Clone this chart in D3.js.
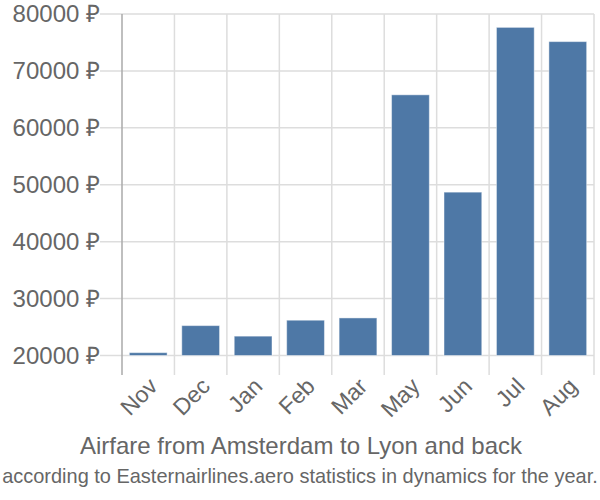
<!DOCTYPE html>
<html><head><meta charset="utf-8">
<script src="https://cdn.jsdelivr.net/npm/d3@7"></script>
<style>body{margin:0;background:#fff}</style>
</head><body>
<svg id="c" width="600" height="500"></svg>
<script>
const months = ["Nov","Dec","Jan","Feb","Mar","May","Jun","Jul","Aug"];
const prices = [20500,25250,23400,26200,26600,65800,48700,77650,75150];
const yTicks = [20000,30000,40000,50000,60000,70000,80000];
const title = "Airfare from Amsterdam to Lyon and back";
const subtitle = "according to Easternairlines.aero statistics in dynamics for the year.";

const svg = d3.select("#c");
const font = "'Liberation Sans', Arial, sans-serif";
const x = d3.scaleBand().domain(months).range([122,594]).paddingInner(0.28).paddingOuter(0.14);
const xg = d3.scaleBand().domain(months).range([122,594]);
const y = d3.scaleLinear().domain([20000,80000]).range([355.5,14]);

svg.append("g").selectAll("line").data(yTicks).join("line")
  .attr("x1",100).attr("x2",594).attr("y1",d=>y(d)).attr("y2",d=>y(d))
  .attr("stroke","#ddd").attr("stroke-width",1.5);
const vx = months.map(m=>xg(m)).concat([594]);
svg.append("g").selectAll("line").data(vx).join("line")
  .attr("x1",d=>d).attr("x2",d=>d).attr("y1",14).attr("y2",375)
  .attr("stroke",(d,i)=>i===0?"#aaa":"#ddd").attr("stroke-width",1.5);

svg.append("g").selectAll("text").data(yTicks).join("text")
  .attr("x",100).attr("y",d=>y(d)).attr("dy","0.35em")
  .attr("text-anchor","end").attr("font-family",font).attr("font-size",24)
  .attr("fill","#666").text(d=>d+" ₽");

svg.append("g").selectAll("rect").data(prices).join("rect")
  .attr("x",(d,i)=>x(months[i])).attr("width",x.bandwidth())
  .attr("y",d=>y(d)).attr("height",d=>y(20000)-y(d))
  .attr("fill","#4e78a6").attr("stroke","rgba(255,255,255,0.45)").attr("stroke-width",1);

svg.append("g").selectAll("text").data(months).join("text")
  .attr("transform",d=>`translate(${xg(d)+xg.bandwidth()/2+5},${382}) rotate(-45)`)
  .attr("text-anchor","end").attr("dy","0.35em")
  .attr("font-family",font).attr("font-size",23).attr("fill","#666").text(d=>d);

svg.append("text").attr("x",301).attr("y",454).attr("text-anchor","middle")
  .attr("font-family",font).attr("font-size",24).attr("fill","#666").text(title);
const sub = svg.append("text").attr("x",300).attr("y",483).attr("text-anchor","middle")
  .attr("font-family","'Liberation Sans Narrow', 'Liberation Sans', Arial, sans-serif")
  .attr("font-size",22).attr("fill","#666").text(subtitle);
const w = sub.node().getComputedTextLength();
if (w > 596) sub.attr("font-size", 22*596/w);
</script>
</body></html>
